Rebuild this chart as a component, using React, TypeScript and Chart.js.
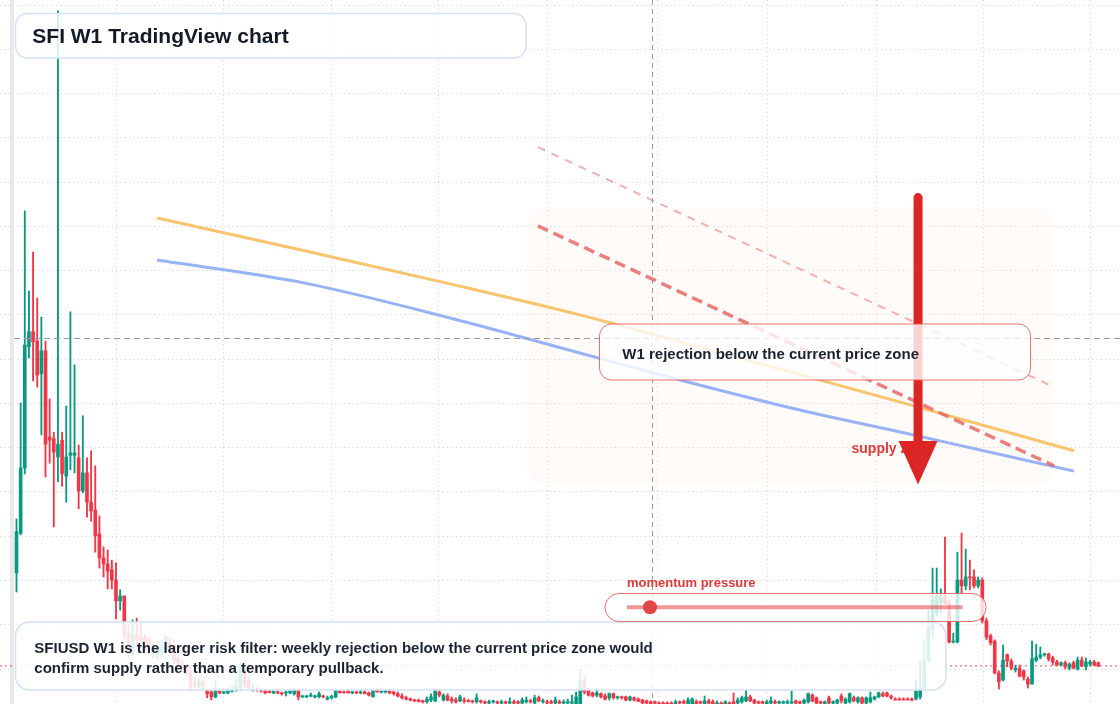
import React, { useEffect, useRef } from 'react';
import { Chart, registerables } from 'chart.js';

Chart.register(...registerables);

// Weekly SFI/USD candles (price units), index = week number
const opens = [
  317, 407, 554, 828, 862, 841, 767, 819, 624, 620,
  579, 617, 536, 583, 583, 577, 502, 543, 477, 459,
  405, 351, 337, 324, 301, 254, 265, 181, 132, 177,
  172, 170, 166, 150, 129, 138, 143, 159, 154, 125,
  111, 102, 93, 68, 62, 71, 50, 48, 37, 50,
  46, 46, 50, 53, 57, 91, 75, 53, 55, 53,
  50, 50, 46, 48, 46, 46, 46, 44, 53, 37,
  37, 39, 37, 37, 39, 32, 35, 37, 50, 48,
  50, 46, 48, 46, 48, 46, 37, 53, 48, 48,
  50, 48, 44, 39, 35, 32, 30, 30, 28, 26,
  30, 28, 48, 30, 39, 32, 30, 28, 30, 28,
  28, 26, 28, 26, 23, 26, 26, 23, 26, 23,
  26, 26, 23, 26, 28, 23, 35, 26, 26, 26,
  23, 26, 23, 23, 23, 21, 21, 75, 53, 46,
  41, 44, 39, 35, 44, 35, 37, 37, 30, 35,
  32, 30, 28, 26, 26, 23, 23, 23, 23, 21,
  26, 26, 21, 21, 26, 26, 21, 28, 26, 21,
  23, 21, 23, 26, 23, 26, 28, 37, 30, 26,
  26, 21, 23, 26, 23, 23, 23, 23, 28, 26,
  23, 26, 41, 35, 26, 21, 35, 23, 23, 39,
  23, 26, 35, 26, 35, 23, 26, 32, 37, 44,
  46, 39, 32, 32, 32, 32, 32, 32, 37, 57,
  120, 188, 227, 249, 263, 249, 161, 161, 301, 288,
  308, 308, 288, 301, 209, 175, 163, 91, 75, 132,
  118, 98, 102, 96, 77, 66, 120, 127, 132, 134,
  125, 116, 109, 114, 102, 114, 100, 120, 105, 111,
  116, 114,
];
const highs = [
  439, 701, 1135, 954, 1042, 938, 895, 841, 710, 635,
  1587, 635, 694, 907, 787, 606, 672, 577, 593, 559,
  446, 376, 369, 346, 340, 279, 265, 200, 211, 215,
  204, 177, 170, 161, 150, 166, 175, 170, 166, 132,
  120, 111, 109, 80, 80, 75, 55, 53, 75, 53,
  50, 57, 62, 75, 114, 98, 84, 66, 59, 55,
  53, 53, 50, 53, 48, 50, 53, 55, 55, 41,
  41, 46, 41, 48, 41, 39, 41, 55, 53, 50,
  53, 50, 50, 53, 53, 48, 55, 57, 53, 53,
  53, 50, 48, 44, 39, 35, 32, 32, 30, 37,
  44, 55, 53, 44, 44, 37, 35, 41, 35, 32,
  30, 44, 30, 28, 30, 30, 28, 30, 28, 35,
  30, 28, 35, 37, 32, 41, 39, 32, 30, 30,
  37, 30, 30, 32, 41, 48, 98, 84, 57, 48,
  57, 46, 44, 46, 46, 39, 39, 39, 39, 37,
  35, 32, 30, 28, 28, 26, 26, 26, 26, 30,
  28, 30, 35, 35, 30, 28, 39, 32, 30, 28,
  26, 28, 26, 46, 35, 39, 53, 41, 32, 28,
  28, 30, 37, 30, 28, 28, 30, 50, 30, 28,
  32, 46, 44, 37, 28, 28, 39, 28, 32, 44,
  35, 46, 39, 37, 37, 37, 48, 39, 48, 48,
  48, 41, 35, 35, 35, 35, 35, 75, 120, 166,
  233, 328, 328, 281, 398, 256, 181, 364, 407, 371,
  346, 324, 308, 306, 215, 179, 166, 96, 154, 134,
  123, 109, 109, 98, 82, 163, 156, 150, 136, 136,
  129, 120, 116, 118, 114, 118, 127, 127, 125, 120,
  120, 116,
];
const lows = [
  274, 403, 541, 803, 751, 737, 629, 534, 565, 421,
  523, 513, 477, 550, 543, 462, 498, 443, 434, 364,
  328, 308, 281, 281, 213, 233, 166, 127, 129, 154,
  148, 143, 136, 125, 120, 127, 138, 138, 109, 107,
  98, 84, 53, 57, 57, 53, 35, 30, 35, 44,
  44, 44, 48, 50, 53, 57, 55, 50, 50, 48,
  44, 46, 44, 44, 41, 39, 44, 41, 30, 35,
  35, 37, 35, 35, 35, 30, 32, 35, 46, 46,
  46, 44, 44, 44, 44, 39, 37, 48, 46, 46,
  44, 41, 37, 32, 30, 28, 26, 26, 23, 23,
  26, 26, 37, 28, 28, 23, 23, 26, 23, 26,
  23, 23, 23, 21, 21, 23, 21, 21, 21, 21,
  21, 21, 21, 23, 23, 21, 26, 23, 21, 21,
  21, 21, 21, 21, 21, 21, 21, 44, 39, 37,
  37, 35, 30, 30, 32, 32, 32, 28, 28, 28,
  26, 21, 21, 21, 21, 21, 21, 21, 21, 21,
  21, 21, 21, 21, 21, 21, 21, 21, 21, 21,
  21, 21, 21, 21, 21, 23, 26, 26, 21, 21,
  21, 21, 21, 21, 21, 21, 21, 21, 21, 21,
  21, 23, 26, 21, 21, 21, 21, 21, 21, 23,
  21, 23, 26, 23, 21, 21, 23, 30, 35, 37,
  37, 32, 30, 30, 30, 30, 28, 30, 32, 53,
  116, 172, 220, 227, 247, 159, 159, 159, 272, 279,
  279, 283, 283, 204, 166, 154, 89, 55, 73, 105,
  98, 93, 82, 75, 57, 66, 116, 123, 129, 118,
  109, 107, 107, 100, 98, 100, 98, 105, 98, 107,
  107, 105,
];
const closes = [
  410, 554, 832, 862, 839, 764, 819, 608, 617, 590,
  608, 541, 579, 588, 588, 502, 543, 477, 457, 401,
  351, 337, 321, 301, 254, 265, 179, 159, 177, 168,
  166, 159, 152, 136, 148, 150, 172, 148, 120, 114,
  102, 91, 59, 64, 73, 62, 44, 37, 50, 46,
  48, 50, 53, 62, 105, 64, 57, 57, 53, 50,
  46, 47, 50, 46, 44, 48, 50, 53, 37, 39,
  39, 41, 39, 44, 37, 35, 39, 53, 46, 46,
  46, 48, 46, 48, 44, 41, 53, 48, 50, 50,
  46, 44, 39, 35, 32, 30, 28, 26, 26, 32,
  37, 53, 41, 41, 30, 28, 26, 37, 28, 26,
  26, 35, 26, 23, 26, 28, 23, 26, 23, 26,
  23, 23, 30, 30, 26, 35, 28, 28, 23, 23,
  30, 23, 26, 26, 26, 37, 75, 48, 41, 39,
  46, 37, 32, 44, 35, 37, 35, 30, 37, 30,
  27, 23, 23, 21, 23, 21, 21, 21, 21, 26,
  23, 23, 30, 32, 21, 23, 28, 23, 21, 23,
  21, 26, 21, 21, 30, 35, 37, 28, 23, 23,
  23, 26, 28, 23, 26, 26, 26, 26, 23, 23,
  30, 44, 28, 23, 23, 26, 23, 26, 30, 28,
  32, 44, 28, 35, 23, 35, 35, 37, 46, 39,
  39, 35, 30, 30, 30, 30, 30, 50, 57, 120,
  193, 256, 265, 265, 249, 161, 163, 301, 288, 308,
  306, 288, 301, 209, 172, 159, 91, 71, 120, 118,
  102, 102, 84, 82, 66, 123, 127, 132, 134, 123,
  116, 109, 114, 105, 111, 102, 120, 107, 116, 116,
  109, 107,
];

// Time grid (half-year boundaries, in week index) and price grid
const gridWeeks = [24.2, 49.9, 76.1, 101.9, 128.0, 154.6, 181.3, 207.4, 233.2, 259.2];
const gridPrices = [100, 200, 300, 400, 500, 600, 700, 800, 900, 1000, 1100, 1200, 1300, 1400, 1500, 1600];
const viewWeeks = [-3.98, 266.22];
const viewPrices = [21.0, 1611.3];

// Moving-average overlays
const fastMaWeeks = [33.9, 68.4, 104.6, 135.9, 177.0, 213.2, 255.1];
const fastMaValues = [1119, 1047, 970, 900, 796, 703, 593];
const slowMaWeeks = [33.9, 68.4, 104.6, 135.9, 160.1, 189.0, 216.3, 255.1];
const slowMaValues = [1024, 974, 893, 814, 753, 685, 629, 547];

// Descending trendlines
const outerTrendWeeks = [125.8, 249.8];
const outerTrendValues = [1279, 739];
const innerTrendWeeks = [125.8, 250.3];
const innerTrendValues = [1101, 559];

// Supply zone, crosshair and arrow anchors (data units)
const zoneWeeks = [123.2, 250.1];
const zoneValues = [516, 1142];
const crosshairWeek = 153.3;
const crosshairPrice = 848;
const arrowWeek = 217.5;
const arrowValues = [1165, 615, 517];

const titleText = 'SFI W1 TradingView chart';
const noteText = 'W1 rejection below the current price zone';
const zoneLabel = 'supply zone';
const momentumLabel = 'momentum pressure';
const footerLines = [
  'SFIUSD W1 is the larger risk filter: weekly rejection below the current price zone would',
  'confirm supply rather than a temporary pullback.',
];

const GREEN = '#089981';
const RED = '#f23645';
const FONT = '"Liberation Sans", Arial, Helvetica, sans-serif';

function box(ctx: CanvasRenderingContext2D, x: number, y: number, w: number, h: number, r: number, fill: string, stroke: string, lw: number) {
  ctx.beginPath();
  ctx.roundRect(x, y, w, h, r);
  ctx.fillStyle = fill;
  ctx.fill();
  ctx.lineWidth = lw;
  ctx.strokeStyle = stroke;
  ctx.stroke();
}

const overlayPlugin = {
  id: 'overlay',
  beforeDatasetsDraw(chart: any) {
    const { ctx } = chart;
    const xs = chart.scales.x;
    const ys = chart.scales.y;
    ctx.save();
    const zx0 = xs.getPixelForValue(zoneWeeks[0]);
    const zx1 = xs.getPixelForValue(zoneWeeks[1]);
    const zy0 = ys.getPixelForValue(zoneValues[1]);
    const zy1 = ys.getPixelForValue(zoneValues[0]);
    ctx.beginPath();
    ctx.roundRect(zx0, zy0, zx1 - zx0, zy1 - zy0, 18);
    ctx.fillStyle = 'rgba(246, 226, 212, 0.13)';
    ctx.fill();
    ctx.fillStyle = '#e9e9e9';
    ctx.fillRect(10, 0, 4, chart.height);
    ctx.restore();
  },
  afterDatasetsDraw(chart: any) {
    const { ctx } = chart;
    const xs = chart.scales.x;
    const ys = chart.scales.y;
    ctx.save();

    // crosshair
    const cx = Math.round(xs.getPixelForValue(crosshairWeek)) + 0.5;
    const cy = Math.round(ys.getPixelForValue(crosshairPrice)) + 0.5;
    ctx.lineWidth = 1;
    ctx.strokeStyle = '#9a9a9a';
    ctx.setLineDash([5, 4]);
    ctx.beginPath();
    ctx.moveTo(cx, 0);
    ctx.lineTo(cx, chart.height);
    ctx.stroke();
    ctx.setLineDash([6, 4]);
    ctx.beginPath();
    ctx.moveTo(14, cy);
    ctx.lineTo(chart.width, cy);
    ctx.stroke();
    ctx.setLineDash([]);

    // supply zone label
    ctx.font = `bold 14px ${FONT}`;
    ctx.fillStyle = '#e03a3a';
    ctx.textBaseline = 'alphabetic';
    ctx.fillText(zoneLabel, 851.5, 452.5);

    // arrow
    const ax = xs.getPixelForValue(arrowWeek);
    const aTop = ys.getPixelForValue(arrowValues[0]);
    const aBase = ys.getPixelForValue(arrowValues[1]);
    const aTip = ys.getPixelForValue(arrowValues[2]);
    ctx.strokeStyle = '#dc2626';
    ctx.lineWidth = 9;
    ctx.lineCap = 'round';
    ctx.beginPath();
    ctx.moveTo(ax, aTop);
    ctx.lineTo(ax, aBase + 2);
    ctx.stroke();
    ctx.lineCap = 'butt';
    ctx.fillStyle = '#dc2626';
    ctx.beginPath();
    ctx.moveTo(ax - 19.5, aBase);
    ctx.lineTo(ax + 19.5, aBase);
    ctx.lineTo(ax, aTip);
    ctx.closePath();
    ctx.fill();

    // note box
    box(ctx, 599.5, 324, 431, 56, 12, 'rgba(255,255,255,0.8)', 'rgba(228, 90, 90, 0.85)', 1);
    ctx.font = `bold 15px ${FONT}`;
    ctx.fillStyle = '#1b2331';
    ctx.fillText(noteText, 622.3, 359.3);

    // title box
    box(ctx, 15.5, 13.5, 510.5, 44.5, 12, 'rgba(255,255,255,0.84)', '#d3e1f5', 1.5);
    ctx.font = `bold 21px ${FONT}`;
    ctx.fillStyle = '#131a26';
    ctx.fillText(titleText, 32.3, 43.3);

    // footer box
    box(ctx, 15.5, 622, 930.5, 68, 14, 'rgba(255,255,255,0.86)', '#d3e1f5', 1.5);
    ctx.font = `bold 15px ${FONT}`;
    ctx.fillStyle = '#1b2331';
    ctx.fillText(footerLines[0], 34.3, 653.3);
    ctx.fillText(footerLines[1], 34.3, 673.0);

    // momentum gauge
    ctx.font = `bold 13px ${FONT}`;
    ctx.fillStyle = '#e03a3a';
    ctx.fillText(momentumLabel, 627, 586.5);
    box(ctx, 605, 593.5, 381, 28, 14, 'rgba(255,255,255,0.8)', 'rgba(228, 90, 90, 0.85)', 1);
    ctx.strokeStyle = 'rgba(230, 80, 80, 0.6)';
    ctx.lineWidth = 4;
    ctx.beginPath();
    ctx.moveTo(627, 607.3);
    ctx.lineTo(962.5, 607.3);
    ctx.stroke();
    ctx.fillStyle = '#e34646';
    ctx.beginPath();
    ctx.arc(650, 607.3, 7, 0, Math.PI * 2);
    ctx.fill();

    ctx.restore();
  },
};

export default function App() {
  const ref = useRef<HTMLCanvasElement>(null);

  useEffect(() => {
    const canvas = ref.current;
    if (!canvas) return;
    const idx = closes.map((_, i) => i);
    const colors = idx.map((i) => (closes[i] >= opens[i] ? GREEN : RED));
    const lastClose = closes[closes.length - 1];

    const chart = new Chart(canvas, {
      type: 'bar',
      data: {
        datasets: [
          {
            type: 'line',
            label: 'last price',
            data: [
              { x: viewWeeks[0], y: lastClose },
              { x: viewWeeks[1], y: lastClose },
            ],
            borderColor: 'rgba(242, 54, 69, 0.9)',
            borderWidth: 1,
            borderDash: [2, 3],
            pointRadius: 0,
            fill: false,
            order: 7,
          },
          {
            type: 'bar',
            label: 'wicks',
            data: idx.map((i) => ({ x: i, y: [lows[i], highs[i]] })),
            backgroundColor: colors,
            borderWidth: 0,
            barThickness: 1.2,
            grouped: false,
            order: 6,
          },
          {
            type: 'bar',
            label: 'bodies',
            data: idx.map((i) => ({ x: i, y: [opens[i], closes[i]] })),
            backgroundColor: colors,
            borderWidth: 0,
            barThickness: 3,
            minBarLength: 1,
            grouped: false,
            order: 5,
          },
          {
            type: 'line',
            label: 'slow MA',
            data: slowMaWeeks.map((w, i) => ({ x: w, y: slowMaValues[i] })),
            borderColor: '#97b3f6',
            borderWidth: 3,
            pointRadius: 0,
            cubicInterpolationMode: 'monotone',
            fill: false,
            order: 4,
          },
          {
            type: 'line',
            label: 'fast MA',
            data: fastMaWeeks.map((w, i) => ({ x: w, y: fastMaValues[i] })),
            borderColor: '#f8c46e',
            borderWidth: 3,
            pointRadius: 0,
            cubicInterpolationMode: 'monotone',
            fill: false,
            order: 3,
          },
          {
            type: 'line',
            label: 'outer trend',
            data: outerTrendWeeks.map((w, i) => ({ x: w, y: outerTrendValues[i] })),
            borderColor: 'rgba(240, 150, 150, 0.75)',
            borderWidth: 2,
            borderDash: [8, 7],
            pointRadius: 0,
            fill: false,
            order: 2,
          },
          {
            type: 'line',
            label: 'inner trend',
            data: innerTrendWeeks.map((w, i) => ({ x: w, y: innerTrendValues[i] })),
            borderColor: 'rgba(232, 100, 100, 0.82)',
            borderWidth: 3.5,
            borderDash: [11, 6],
            pointRadius: 0,
            fill: false,
            order: 1,
          },
        ] as any,
      },
      options: {
        responsive: false,
        animation: false,
        devicePixelRatio: 1,
        events: [],
        layout: { padding: 0 },
        plugins: {
          legend: { display: false },
          tooltip: { enabled: false },
        },
        scales: {
          x: {
            type: 'linear',
            min: viewWeeks[0],
            max: viewWeeks[1],
            offset: false,
            afterBuildTicks: (s: any) => {
              s.ticks = gridWeeks.map((v) => ({ value: v }));
            },
            afterFit: (s: any) => {
              s.height = 0;
            },
            ticks: { display: false },
            border: { display: false, dash: [1, 3.3] },
            grid: { color: '#cdcdcd', lineWidth: 1, drawTicks: false, offset: false },
          },
          y: {
            type: 'linear',
            min: viewPrices[0],
            max: viewPrices[1],
            afterBuildTicks: (s: any) => {
              s.ticks = gridPrices.map((v) => ({ value: v }));
            },
            afterFit: (s: any) => {
              s.width = 0;
            },
            ticks: { display: false },
            border: { display: false, dash: [1, 3.3] },
            grid: { color: '#cdcdcd', lineWidth: 1, drawTicks: false },
          },
        },
      } as any,
      plugins: [overlayPlugin],
    });

    return () => chart.destroy();
  }, []);

  return (
    <div style={{ position: 'absolute', left: 0, top: 0, width: 1120, height: 704, background: '#ffffff' }}>
      <canvas ref={ref} width={1120} height={704} style={{ display: 'block', width: 1120, height: 704 }} />
    </div>
  );
}
